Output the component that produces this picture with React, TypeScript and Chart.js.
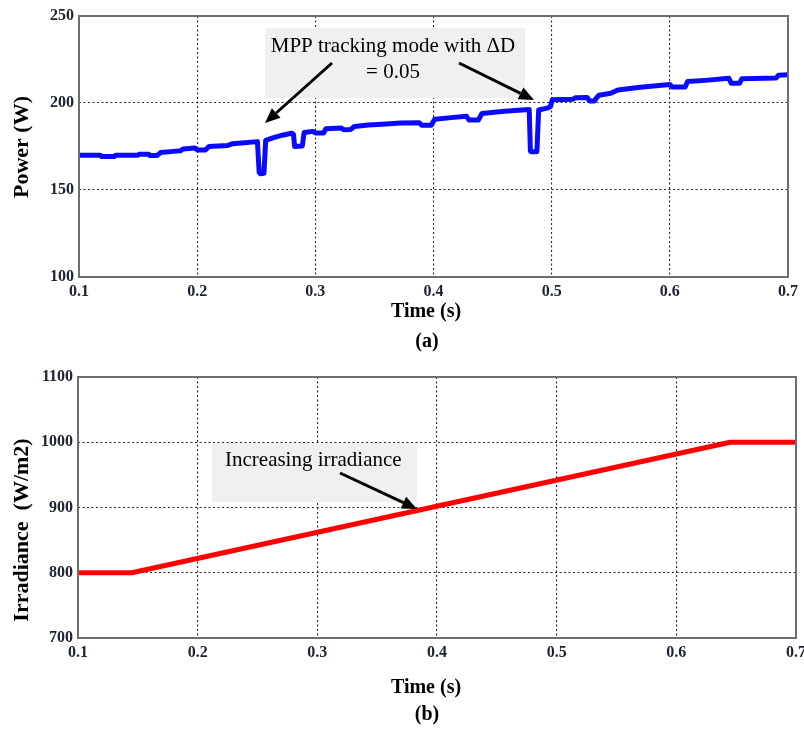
import React, { useEffect, useRef } from "react";
import { Chart, registerables } from "chart.js";

Chart.register(...registerables);

const SERIF = '"Liberation Serif", "Times New Roman", Times, serif';

// ---- (a) Power vs time ----
const timeA = [
  0.1, 0.118, 0.119, 0.13, 0.131, 0.15, 0.151, 0.159, 0.16, 0.166, 0.169, 0.18, 0.186, 0.188, 0.198,
  0.2, 0.207, 0.21, 0.226, 0.23, 0.24, 0.251, 0.2525, 0.2535, 0.2565, 0.258, 0.264, 0.272, 0.28,
  0.2815, 0.2825, 0.289, 0.2905, 0.298, 0.3, 0.307, 0.309, 0.322, 0.324, 0.33, 0.333, 0.345, 0.36,
  0.372, 0.388, 0.39, 0.398, 0.401, 0.415, 0.428, 0.43, 0.438, 0.441, 0.46, 0.481, 0.482, 0.483,
  0.4875, 0.489, 0.497, 0.499, 0.5005, 0.518, 0.52, 0.53, 0.532, 0.536, 0.54, 0.55, 0.556, 0.575,
  0.6, 0.602, 0.613, 0.615, 0.63, 0.65, 0.652, 0.659, 0.661, 0.69, 0.692, 0.7,
];
const powerA = [
  170, 170, 169.3, 169.3, 170, 170, 170.6, 170.6, 169.8, 169.8, 171.5, 172.2, 172.6, 173.6, 174.2,
  173, 173, 175, 175.6, 176.6, 177.2, 177.8, 160, 159.3, 159.6, 178.5, 180, 181.5, 182.6,
  182, 175, 175.3, 183, 183.7, 182.8, 182.8, 185.2, 185.6, 184.6, 184.8, 186.5, 187.4, 188,
  188.5, 188.6, 187.2, 187.2, 190.6, 191.6, 192.4, 190.2, 190.2, 194, 195.3, 196.3, 172.3, 172,
  172, 196, 197.2, 198, 201.8, 202.2, 203, 203.2, 201.2, 201.2, 204.5, 205.6, 207.5, 209,
  210.6, 209.2, 209.2, 212.3, 213, 214.2, 211.3, 211.3, 214, 214.4, 216, 216.2,
];

// ---- (b) Irradiance vs time ----
const timeB = [0.1, 0.145, 0.645, 0.7];
const irradianceB = [800, 800, 1000, 1000];

// ---- ticks ----
const timeTicks = [0.1, 0.2, 0.3, 0.4, 0.5, 0.6, 0.7];
const powerTicks = [100, 150, 200, 250];
const irradianceTicks = [700, 800, 900, 1000, 1100];

// ---- texts ----
const xTitle = "Time (s)";
const powerTitle = "Power (W)";
const irradianceTitle = "Irradiance  (W/m2)";
const captionA = "(a)";
const captionB = "(b)";
const noteA = ["MPP tracking mode with \u0394D", "= 0.05"];
const noteB = "Increasing irradiance";

type Arrow = { x1: number; y1: number; x2: number; y2: number };
type FigCfg = {
  boxes: { x: number; y: number; w: number; h: number }[];
  texts: { text: string; x: number; y: number; align: CanvasTextAlign }[];
  arrows: Arrow[];
  captions: { text: string; x: number; y: number }[];
  yTitle: { text: string; x: number; y: number };
};

function drawArrow(ctx: CanvasRenderingContext2D, a: Arrow) {
  const ang = Math.atan2(a.y2 - a.y1, a.x2 - a.x1);
  const headLen = 15;
  const headW = 6.5;
  const bx = a.x2 - headLen * Math.cos(ang);
  const by = a.y2 - headLen * Math.sin(ang);
  ctx.save();
  ctx.strokeStyle = "#000";
  ctx.fillStyle = "#000";
  ctx.lineWidth = 3;
  ctx.beginPath();
  ctx.moveTo(a.x1, a.y1);
  ctx.lineTo(bx, by);
  ctx.stroke();
  ctx.beginPath();
  ctx.moveTo(a.x2, a.y2);
  ctx.lineTo(bx + headW * Math.sin(ang), by - headW * Math.cos(ang));
  ctx.lineTo(bx - headW * Math.sin(ang), by + headW * Math.cos(ang));
  ctx.closePath();
  ctx.fill();
  ctx.restore();
}

function makeFigurePlugin(cfg: FigCfg) {
  return {
    id: "figure",
    beforeDatasetsDraw(chart: any) {
      const ctx: CanvasRenderingContext2D = chart.ctx;
      ctx.save();
      ctx.fillStyle = "#f0f0f0";
      for (const b of cfg.boxes) ctx.fillRect(b.x, b.y, b.w, b.h);
      ctx.restore();
    },
    afterDatasetsDraw(chart: any) {
      const ctx: CanvasRenderingContext2D = chart.ctx;
      const ca = chart.chartArea;
      ctx.save();
      ctx.strokeStyle = "#6e6e6e";
      ctx.lineWidth = 2;
      ctx.strokeRect(ca.left, ca.top, ca.right - ca.left, ca.bottom - ca.top);
      ctx.restore();

      ctx.save();
      ctx.fillStyle = "#000";
      ctx.font = `21px ${SERIF}`;
      ctx.textBaseline = "alphabetic";
      for (const t of cfg.texts) {
        ctx.textAlign = t.align;
        ctx.fillText(t.text, t.x, t.y);
      }
      ctx.restore();

      for (const a of cfg.arrows) drawArrow(ctx, a);

      ctx.save();
      ctx.fillStyle = "#000";
      ctx.font = `bold 20px ${SERIF}`;
      ctx.textAlign = "center";
      ctx.textBaseline = "middle";
      for (const c of cfg.captions) ctx.fillText(c.text, c.x, c.y);
      ctx.translate(cfg.yTitle.x, cfg.yTitle.y);
      ctx.rotate(-Math.PI / 2);
      ctx.font = `bold 22px ${SERIF}`;
      ctx.fillText(cfg.yTitle.text, 0, 0);
      ctx.restore();
    },
  };
}

function makeOptions(
  yMin: number,
  yMax: number,
  yTicks: number[],
  yWidth: number,
  xHeight: number,
  padding: { left: number; top: number; right: number; bottom: number }
) {
  const tickFont = { family: SERIF, size: 16, weight: "bold" as const };
  const gridCfg = { color: "#262626", lineWidth: 1.1, drawTicks: false };
  const borderCfg = { display: false, dash: [2, 2.5] };
  return {
    responsive: false,
    maintainAspectRatio: false,
    animation: false as const,
    layout: { padding },
    plugins: { legend: { display: false }, tooltip: { enabled: false }, title: { display: false } },
    elements: { point: { radius: 0 } },
    scales: {
      x: {
        type: "linear" as const,
        min: timeTicks[0],
        max: timeTicks[timeTicks.length - 1],
        grid: gridCfg,
        border: borderCfg,
        ticks: {
          font: tickFont,
          color: "#1d2230",
          padding: 5,
          maxRotation: 0,
          autoSkip: false,
          callback: (v: any) => Number(v).toFixed(1),
        },
        afterBuildTicks: (s: any) => {
          s.ticks = timeTicks.map((v) => ({ value: v }));
        },
        afterFit: (s: any) => {
          s.height = xHeight;
          s.paddingLeft = 0;
          s.paddingRight = 0;
        },
      },
      y: {
        type: "linear" as const,
        min: yMin,
        max: yMax,
        grid: gridCfg,
        border: borderCfg,
        ticks: {
          font: tickFont,
          color: "#1d2230",
          padding: 5,
          autoSkip: false,
          callback: (v: any) => String(Math.round(Number(v))),
        },
        afterBuildTicks: (s: any) => {
          s.ticks = yTicks.map((v) => ({ value: v }));
        },
        afterFit: (s: any) => {
          s.width = yWidth;
          s.paddingTop = 0;
          s.paddingBottom = 0;
        },
      },
    },
  };
}

export default function App() {
  const refA = useRef<HTMLCanvasElement | null>(null);
  const refB = useRef<HTMLCanvasElement | null>(null);

  useEffect(() => {
    document.body.style.margin = "0";
    document.body.style.background = "#ffffff";

    const pluginA = makeFigurePlugin({
      boxes: [{ x: 265, y: 28, w: 260, h: 70 }],
      texts: [
        { text: noteA[0], x: 393, y: 52, align: "center" },
        { text: noteA[1], x: 393, y: 78, align: "center" },
      ],
      arrows: [
        { x1: 332, y1: 63, x2: 265, y2: 123 },
        { x1: 459, y1: 63, x2: 534, y2: 100 },
      ],
      captions: [
        { text: xTitle, x: 426, y: 312 },
        { text: captionA, x: 427, y: 342 },
      ],
      yTitle: { text: powerTitle, x: 22, y: 147 },
    });

    const chartA = new Chart(refA.current as HTMLCanvasElement, {
      type: "line",
      data: {
        datasets: [
          {
            data: timeA.map((t, i) => ({ x: t, y: powerA[i] })),
            borderColor: "#0a0aff",
            borderWidth: 5,
            borderJoinStyle: "round",
            borderCapStyle: "round",
            tension: 0,
            pointRadius: 0,
            fill: false,
          },
        ],
      },
      options: makeOptions(100, 250, powerTicks, 79, 78, { left: 0, top: 16, right: 16, bottom: 0 }) as any,
      plugins: [pluginA as any],
    });

    const pluginB = makeFigurePlugin({
      boxes: [{ x: 212, y: 88, w: 205, h: 59 }],
      texts: [{ text: noteB, x: 225, y: 111, align: "left" }],
      arrows: [{ x1: 340, y1: 118, x2: 417, y2: 154 }],
      captions: [
        { text: xTitle, x: 426, y: 333 },
        { text: captionB, x: 427, y: 360 },
      ],
      yTitle: { text: irradianceTitle, x: 22, y: 175 },
    });

    const chartB = new Chart(refB.current as HTMLCanvasElement, {
      type: "line",
      data: {
        datasets: [
          {
            data: timeB.map((t, i) => ({ x: t, y: irradianceB[i] })),
            borderColor: "#ff0000",
            borderWidth: 5,
            borderJoinStyle: "round",
            borderCapStyle: "butt",
            tension: 0,
            pointRadius: 0,
            fill: false,
          },
        ],
      },
      options: makeOptions(700, 1100, irradianceTicks, 78, 93, { left: 0, top: 22, right: 8, bottom: 0 }) as any,
      plugins: [pluginB as any],
    });

    return () => {
      chartA.destroy();
      chartB.destroy();
    };
  }, []);

  return (
    <div style={{ position: "relative", width: 804, height: 731 }}>
      <canvas
        ref={refA}
        width={804}
        height={355}
        style={{ position: "absolute", left: 0, top: 0, width: 804, height: 355 }}
      />
      <canvas
        ref={refB}
        width={804}
        height={376}
        style={{ position: "absolute", left: 0, top: 355, width: 804, height: 376 }}
      />
    </div>
  );
}
